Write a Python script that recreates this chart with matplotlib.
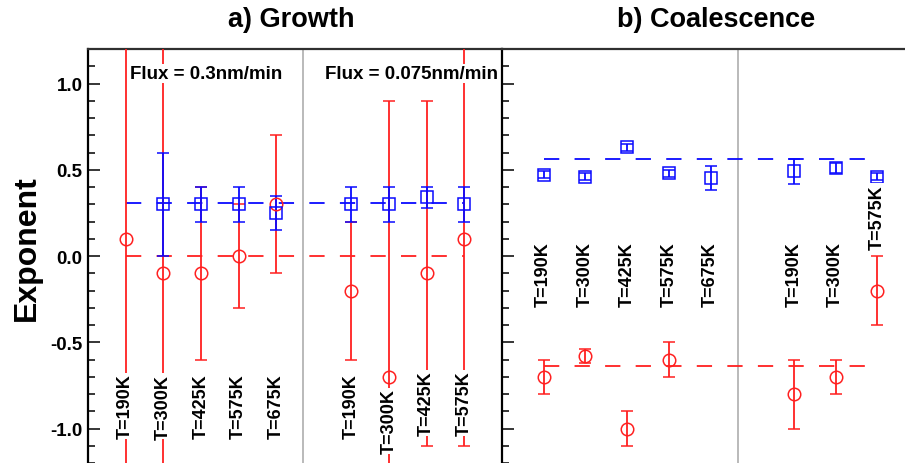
import numpy as np
import matplotlib
matplotlib.use("Agg")
import matplotlib.pyplot as plt
from matplotlib.ticker import MultipleLocator

nan = np.nan

# ---- a) growth exponents -------------------------------------------------
# flux = 0.3 nm/min
grow_T_fast = ["T=190K", "T=300K", "T=425K", "T=575K", "T=675K"]
grow_x_fast = [1, 2, 3, 4, 5]
grow_sq_fast = [nan, 0.30, 0.30, 0.30, 0.25]
grow_sq_fast_err = [nan, 0.30, 0.10, 0.10, 0.10]
grow_ci_fast = [0.10, -0.10, -0.10, 0.00, 0.30]
grow_ci_fast_err = [1.60, 1.60, 0.50, 0.30, 0.40]

# flux = 0.075 nm/min
grow_T_slow = ["T=190K", "T=300K", "T=425K", "T=575K"]
grow_x_slow = [7, 8, 9, 10]
grow_sq_slow = [0.30, 0.30, 0.34, 0.30]
grow_sq_slow_err = [0.10, 0.10, 0.06, 0.10]
grow_ci_slow = [-0.20, -0.70, -0.10, 0.10]
grow_ci_slow_err = [0.40, 1.60, 1.00, 1.20]

grow_sq_mean = 0.31
grow_ci_mean = 0.0

# ---- b) coalescence exponents --------------------------------------------
coal_T_fast = ["T=190K", "T=300K", "T=425K", "T=575K", "T=675K"]
coal_x_fast = [1, 2, 3, 4, 5]
coal_sq_fast = [0.47, 0.46, 0.63, 0.48, 0.45]
coal_sq_fast_err = [0.02, 0.02, 0.02, 0.02, 0.07]
coal_ci_fast = [-0.70, -0.58, -1.00, -0.60, nan]
coal_ci_fast_err = [0.10, 0.04, 0.10, 0.10, nan]

coal_T_slow = ["T=190K", "T=300K", "T=575K"]
coal_x_slow = [7, 8, 9]
coal_sq_slow = [0.49, 0.51, 0.46]
coal_sq_slow_err = [0.07, 0.03, 0.02]
coal_ci_slow = [-0.80, -0.70, -0.20]
coal_ci_slow_err = [0.20, 0.10, 0.20]

coal_sq_mean = 0.56
coal_ci_mean = -0.64

# label heights (y of label centre)
grow_lab_fast = [-0.87] * 5
grow_lab_slow = [-0.87, -0.955, -0.85, -0.85]
coal_lab_fast = [-0.10] * 5
coal_lab_slow = [-0.10, -0.10, 0.23]

RED = "#ff2020"
BLUE = "#0a0aff"
FONT = "Liberation Sans"

plt.rcParams["font.family"] = [FONT, "DejaVu Sans"]
plt.rcParams["font.weight"] = "bold"
plt.rcParams["lines.scale_dashes"] = False

fig = plt.figure(figsize=(9.05, 4.64), dpi=100)
axa = fig.add_axes([88/905., 0., 414/905., 414/464.])
axb = fig.add_axes([502/905., 0., 417/905., 414/464.])


def points(ax, x, y, yerr, marker, col, ms):
    ax.errorbar(x, y, yerr=yerr, fmt=marker, ms=ms, mfc="none", mec=col,
                mew=1.1, ecolor=col, elinewidth=1.3, capsize=4.5,
                capthick=1.3, zorder=3)


def labels(ax, x, y, txt):
    for xi, yi, t in zip(x, y, txt):
        ax.text(xi, yi, t, rotation=90, ha="center", va="center",
                fontsize=13, fontweight="bold", zorder=5,
                bbox=dict(facecolor="white", edgecolor="none", pad=0.5))


# a) growth
axa.plot([1, 10], [grow_ci_mean]*2, color=RED, lw=1.3, ls=(0, (11, 11)), zorder=2)
axa.plot([1, 10], [grow_sq_mean]*2, color=BLUE, lw=1.3, ls=(0, (11, 11)), zorder=2)
points(axa, grow_x_fast, grow_ci_fast, grow_ci_fast_err, "o", RED, 9)
points(axa, grow_x_slow, grow_ci_slow, grow_ci_slow_err, "o", RED, 9)
points(axa, grow_x_fast, grow_sq_fast, grow_sq_fast_err, "s", BLUE, 8.5)
points(axa, grow_x_slow, grow_sq_slow, grow_sq_slow_err, "s", BLUE, 8.5)
labels(axa, grow_x_fast, grow_lab_fast, grow_T_fast)
labels(axa, grow_x_slow, grow_lab_slow, grow_T_slow)
axa.axvline(5.7, color="#b4b4b4", lw=1.3, zorder=1)
axa.text(1.12, 1.057, "Flux = 0.3nm/min", ha="left", va="center",
         fontsize=13.5, fontweight="bold", zorder=5,
         bbox=dict(facecolor="white", edgecolor="none", pad=1))
axa.text(6.3, 1.057, "Flux = 0.075nm/min", ha="left", va="center",
         fontsize=13.5, fontweight="bold", zorder=5,
         bbox=dict(facecolor="white", edgecolor="none", pad=1))
axa.set_xlim(0, 11)

# b) coalescence
axb.plot([1, 9], [coal_ci_mean]*2, color=RED, lw=1.3, ls=(0, (11, 11)), zorder=2)
axb.plot([1, 9], [coal_sq_mean]*2, color=BLUE, lw=1.3, ls=(0, (11, 11)), zorder=2)
points(axb, coal_x_fast, coal_ci_fast, coal_ci_fast_err, "o", RED, 9)
points(axb, coal_x_slow, coal_ci_slow, coal_ci_slow_err, "o", RED, 9)
points(axb, coal_x_fast, coal_sq_fast, coal_sq_fast_err, "s", BLUE, 8.5)
points(axb, coal_x_slow, coal_sq_slow, coal_sq_slow_err, "s", BLUE, 8.5)
labels(axb, coal_x_fast, coal_lab_fast, coal_T_fast)
labels(axb, coal_x_slow, coal_lab_slow, coal_T_slow)
axb.axvline(5.66, color="#b4b4b4", lw=1.3, zorder=1)
axb.set_xlim(0, 10)

for ax in (axa, axb):
    ax.set_ylim(-1.2, 1.2)
    ax.yaxis.set_major_locator(MultipleLocator(0.5))
    ax.yaxis.set_minor_locator(MultipleLocator(0.1))
    ax.set_xticks([])
    ax.tick_params(axis="y", which="major", direction="in", length=8.5,
                   width=1.1, labelsize=13.5, pad=4)
    ax.tick_params(axis="y", which="minor", direction="in", length=5,
                   width=1.1)
    ax.spines["bottom"].set_visible(False)
    ax.spines["right"].set_visible(False)
    ax.spines["left"].set_linewidth(1.6)
    ax.spines["top"].set_linewidth(1.6)
    ax.spines["top"].set_color("#303030")

axa.set_yticklabels([f"{v:.1f}" for v in axa.get_yticks()], fontweight="bold")
axb.tick_params(axis="y", labelleft=False)

fig.text(291/905., 1 - 20/464., "a) Growth", ha="center", va="center",
         fontsize=19.5, fontweight="bold")
fig.text(716/905., 1 - 20/464., "b) Coalescence", ha="center", va="center",
         fontsize=19.5, fontweight="bold")
fig.text(27/905., 1 - 248/464., "Exponent", ha="center", va="center",
         rotation=90, fontsize=23, fontweight="bold")

fig.savefig("out.png", dpi=100)
